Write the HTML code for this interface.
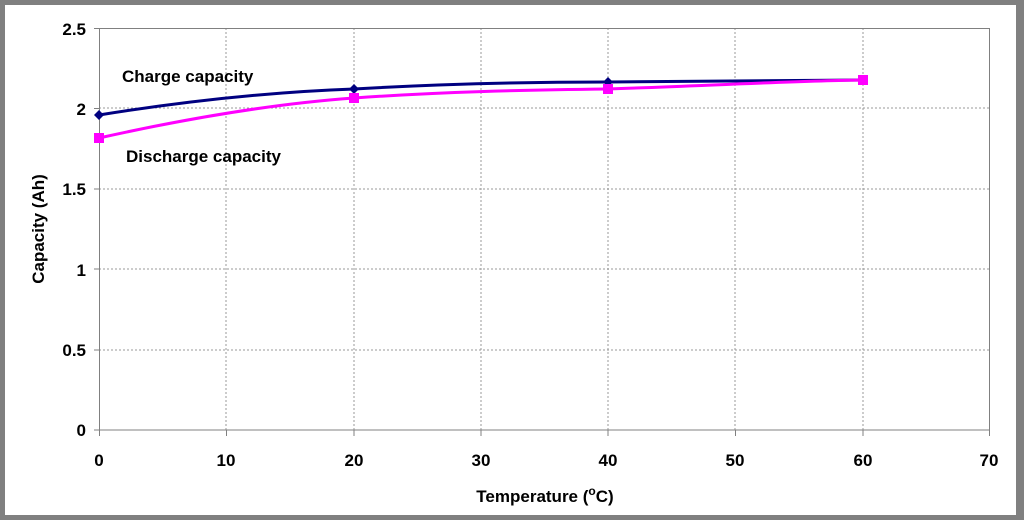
<!DOCTYPE html>
<html><head><meta charset="utf-8"><style>
html,body{margin:0;padding:0;background:#fff}
svg{display:block;font-family:"Liberation Sans",Arial,sans-serif;font-weight:bold}
</style></head><body>
<svg width="1024" height="520" viewBox="0 0 1024 520">
<rect x="0" y="0" width="1024" height="520" fill="#808080"/>
<rect x="5" y="5" width="1011" height="510" fill="#fff"/>
<g stroke="#999" stroke-width="1" stroke-dasharray="2,2">
<line x1="99" y1="350" x2="990" y2="350"/>
<line x1="99" y1="269" x2="990" y2="269"/>
<line x1="99" y1="189" x2="990" y2="189"/>
<line x1="99" y1="108" x2="990" y2="108"/>
<line x1="226" y1="28" x2="226" y2="430"/>
<line x1="354" y1="28" x2="354" y2="430"/>
<line x1="481" y1="28" x2="481" y2="430"/>
<line x1="608" y1="28" x2="608" y2="430"/>
<line x1="735" y1="28" x2="735" y2="430"/>
<line x1="863" y1="28" x2="863" y2="430"/>
</g>
<g stroke="#808080" stroke-width="1" fill="none">
<rect x="99.5" y="28.5" width="890" height="401.5"/>
<path d="M94 28.5H99.5M94 108.5H99.5M94 189H99.5M94 269H99.5M94 350H99.5M94 430H99.5"/>
<path d="M99.5 430V436M226.5 430V436M354 430V436M481 430V436M608 430V436M735.5 430V436M863 430V436M989.5 430V436"/>
</g>
<path d="M99 115 C180 102 270 92 354 89 C440 84 520 82 608 82 C700 81 790 80 863 80" stroke="#000080" stroke-width="3" fill="none"/>
<path d="M99 138 C180 120 270 104 354 98 C440 92 520 90 608 89 C700 86 790 81 863 80" stroke="#ff00ff" stroke-width="3" fill="none"/>
<g fill="#000080">
<path d="M99 110L104 115L99 120L94 115Z"/>
<path d="M354 84L359 89L354 94L349 89Z"/>
<path d="M608 77L613 82L608 87L603 82Z"/>
<path d="M863 75L868 80L863 85L858 80Z"/>
</g>
<g fill="#ff00ff">
<rect x="94" y="133" width="10" height="10"/>
<rect x="349" y="93" width="10" height="10"/>
<rect x="603" y="84" width="10" height="10"/>
<rect x="858" y="75" width="10" height="10"/>
</g>
<g font-size="17" text-anchor="end" fill="#000">
<text x="86" y="35">2.5</text>
<text x="86" y="115">2</text>
<text x="86" y="195">1.5</text>
<text x="86" y="276">1</text>
<text x="86" y="356">0.5</text>
<text x="86" y="436">0</text>
</g>
<g font-size="17" text-anchor="middle" fill="#000">
<text x="99" y="466">0</text>
<text x="226" y="466">10</text>
<text x="354" y="466">20</text>
<text x="481" y="466">30</text>
<text x="608" y="466">40</text>
<text x="735" y="466">50</text>
<text x="863" y="466">60</text>
<text x="989" y="466">70</text>
<text x="545" y="502">Temperature (<tspan font-size="12" dy="-7">o</tspan><tspan dy="7">C)</tspan></text>
</g>
<text transform="translate(44 229) rotate(-90)" font-size="17" text-anchor="middle">Capacity (Ah)</text>
<text x="122" y="82" font-size="17">Charge capacity</text>
<text x="126" y="162" font-size="17">Discharge capacity</text>
</svg>
</body></html>
